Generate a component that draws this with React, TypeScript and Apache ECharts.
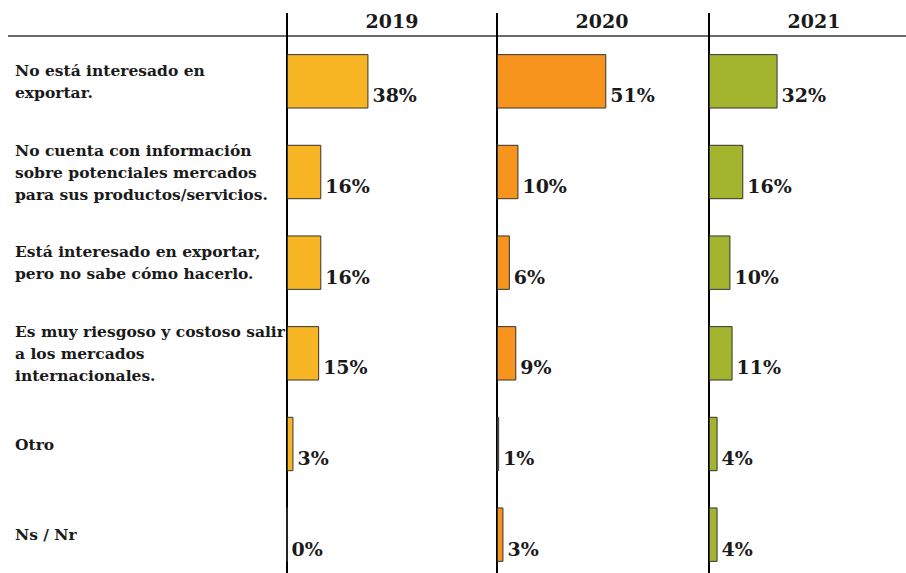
import React, { useEffect, useRef } from "react";
import * as echarts from "echarts";

const categories = [
  "No está interesado en\nexportar.",
  "No cuenta con información\nsobre potenciales mercados\npara sus productos/servicios.",
  "Está interesado en exportar,\npero no sabe cómo hacerlo.",
  "Es muy riesgoso y costoso salir\na los mercados\ninternacionales.",
  "Otro",
  "Ns / Nr",
];
const years = ["2019", "2020", "2021"];
const values2019 = [38, 16, 16, 15, 3, 0];
const values2020 = [51, 10, 6, 9, 1, 3];
const values2021 = [32, 16, 10, 11, 4, 4];
const seriesValues = [values2019, values2020, values2021];
const colors = ["#F8B625", "#F7941D", "#A3B52E"];

const FONT = "DejaVu Serif";
const panelLeft = [287, 497, 709];
const panelWidth = 210;
const gridTop = 36;
const gridHeight = 544;

export default function App() {
  const ref = useRef<HTMLDivElement>(null);
  useEffect(() => {
    if (!ref.current) return;
    document.body.style.overflow = "hidden";
    const chart = echarts.init(ref.current, null, { renderer: "svg" });
    const grids = panelLeft.map((l) => ({
      left: l,
      top: gridTop,
      width: panelWidth,
      height: gridHeight,
      containLabel: false,
    }));
    const xAxes = panelLeft.map((_, i) => ({
      type: "value",
      gridIndex: i,
      min: 0,
      max: 98,
      show: false,
    }));
    const yAxes = panelLeft.map((_, i) => ({
      type: "category",
      gridIndex: i,
      data: categories,
      inverse: true,
      axisTick: { show: false },
      axisLine: { show: true, lineStyle: { color: "#000", width: 2 } },
      axisLabel: {
        show: i === 0,
        align: "left",
        margin: 272,
        fontFamily: FONT,
        fontWeight: "bold",
        fontSize: 15.5,
        lineHeight: 22,
        color: "#1a1a1a",
      },
      splitLine: { show: false },
    }));
    const series = seriesValues.map((vals, i) => ({
      type: "bar",
      xAxisIndex: i,
      yAxisIndex: i,
      data: vals,
      barWidth: "60%",
      itemStyle: { color: colors[i], borderColor: "#333", borderWidth: 1 },
      label: {
        show: true,
        position: "right",
        distance: 4,
        offset: [0, 14],
        formatter: "{c}%",
        fontFamily: FONT,
        fontWeight: "bold",
        fontSize: 19,
        color: "#1a1a1a",
      },
    }));
    const graphic: any[] = [
      {
        type: "line",
        shape: { x1: 8, y1: gridTop, x2: 920, y2: gridTop },
        style: { stroke: "#3a3a3a", lineWidth: 1.5 },
      },
    ];
    panelLeft.forEach((l, i) => {
      graphic.push({
        type: "line",
        shape: { x1: l, y1: 13, x2: l, y2: gridTop },
        style: { stroke: "#000", lineWidth: 2 },
      });
      graphic.push({
        type: "text",
        x: l + panelWidth / 2,
        y: 21,
        style: {
          text: years[i],
          fontFamily: FONT,
          fontWeight: "bold",
          fontSize: 19,
          fill: "#1a1a1a",
          textAlign: "center",
          textVerticalAlign: "middle",
        },
      });
    });
    chart.setOption({
      animation: false,
      backgroundColor: "#fff",
      grid: grids,
      xAxis: xAxes,
      yAxis: yAxes,
      series,
      graphic,
    });
    return () => chart.dispose();
  }, []);
  return (
    <div
      ref={ref}
      style={{ position: "fixed", left: 0, top: 0, width: 920, height: 582 }}
    />
  );
}
